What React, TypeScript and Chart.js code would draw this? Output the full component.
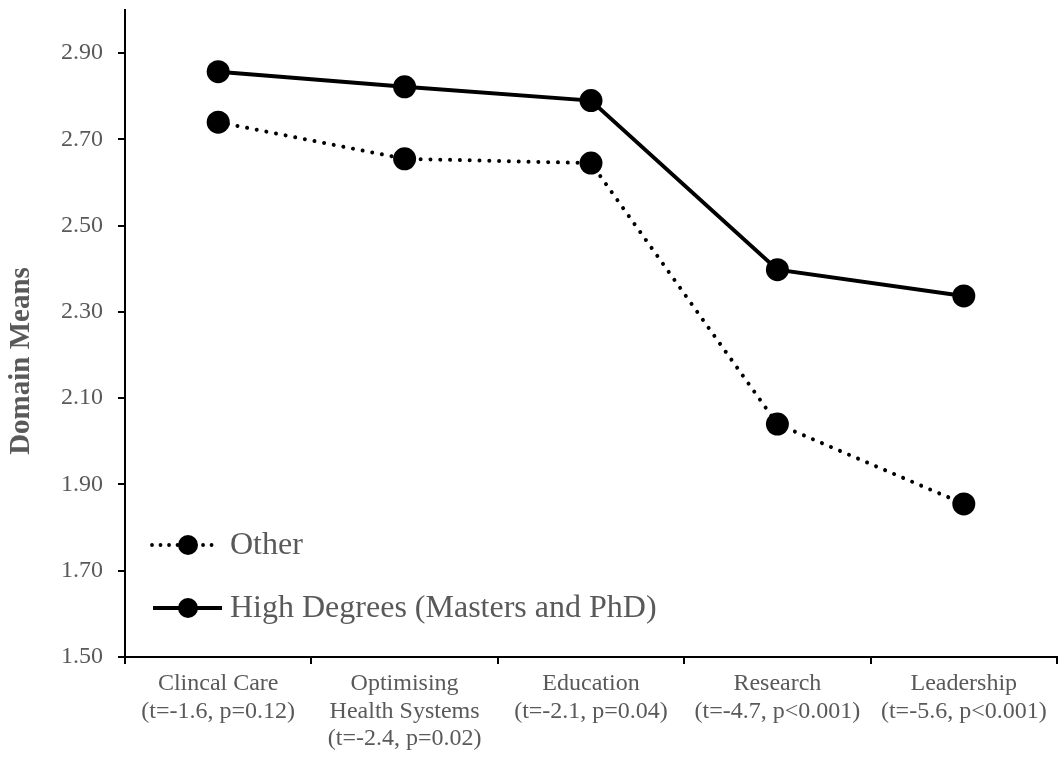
import React, { useEffect, useRef } from "react";
import { Chart, registerables } from "chart.js";

Chart.register(...registerables);

const categories: string[][] = [
  ["Clincal Care", "(t=-1.6, p=0.12)"],
  ["Optimising", "Health Systems", "(t=-2.4, p=0.02)"],
  ["Education", "(t=-2.1, p=0.04)"],
  ["Research", "(t=-4.7, p<0.001)"],
  ["Leadership", "(t=-5.6, p<0.001)"],
];
const otherMeans = [2.74, 2.655, 2.645, 2.04, 1.855];
const highDegreeMeans = [2.857, 2.822, 2.79, 2.398, 2.337];
const yTickValues = [1.5, 1.7, 1.9, 2.1, 2.3, 2.5, 2.7, 2.9];
const seriesNames = ["Other", "High Degrees (Masters and PhD)"];
const yTitle = "Domain Means";

const FAMILY = '"Liberation Serif", "Times New Roman", serif';
const TEXT = "#595959";

const overlayPlugin = {
  id: "overlay",
  afterDraw(chart: any) {
    const ctx = chart.ctx as CanvasRenderingContext2D;
    ctx.save();
    ctx.translate(22, 361);
    ctx.rotate(-Math.PI / 2);
    ctx.font = `bold 29px ${FAMILY}`;
    ctx.fillStyle = TEXT;
    ctx.textAlign = "center";
    ctx.textBaseline = "middle";
    ctx.fillText(yTitle, 0, 0);
    ctx.restore();

    // legend
    const entries = [
      { y: 545, x0: 152, x1: 216, dash: [0.01, 8.5], w: 3.8, name: seriesNames[0] },
      { y: 608, x0: 153, x1: 222, dash: [] as number[], w: 4, name: seriesNames[1] },
    ];
    for (const e of entries) {
      ctx.save();
      ctx.strokeStyle = "#000";
      ctx.lineWidth = e.w;
      ctx.lineCap = e.dash.length ? "round" : "butt";
      ctx.setLineDash(e.dash);
      ctx.beginPath();
      ctx.moveTo(e.x0, e.y);
      ctx.lineTo(e.x1, e.y);
      ctx.stroke();
      ctx.setLineDash([]);
      ctx.fillStyle = "#000";
      ctx.beginPath();
      ctx.arc(188, e.y, 10, 0, Math.PI * 2);
      ctx.fill();
      ctx.font = `32px ${FAMILY}`;
      ctx.fillStyle = TEXT;
      ctx.textAlign = "left";
      ctx.textBaseline = "middle";
      ctx.fillText(e.name, 230, e.y + 1);
      ctx.restore();
    }
  },
};

export default function App() {
  const ref = useRef<HTMLCanvasElement | null>(null);
  useEffect(() => {
    document.body.style.margin = "0";
    const canvas = ref.current!;
    const chart = new Chart(canvas, {
      type: "line",
      data: {
        labels: categories,
        datasets: [
          {
            label: seriesNames[0],
            data: otherMeans,
            borderColor: "#000",
            backgroundColor: "#000",
            borderWidth: 4,
            borderDash: [0.01, 9.8],
            borderCapStyle: "round",
            pointRadius: 11.5,
            pointBackgroundColor: "#000",
            pointBorderWidth: 0,
            tension: 0,
          },
          {
            label: seriesNames[1],
            data: highDegreeMeans,
            borderColor: "#000",
            backgroundColor: "#000",
            borderWidth: 4,
            pointRadius: 11.5,
            pointBackgroundColor: "#000",
            pointBorderWidth: 0,
            tension: 0,
          },
        ],
      },
      options: {
        responsive: false,
        animation: false,
        layout: { autoPadding: false, padding: { top: 10, right: 3, left: 0, bottom: 0 } },
        plugins: { legend: { display: false }, tooltip: { enabled: false } },
        scales: {
          x: {
            offset: true,
            afterFit: (s: any) => {
              s.height = 101;
              s.paddingLeft = 0;
              s.paddingRight = 0;
            },
            grid: {
              offset: true,
              drawOnChartArea: false,
              drawTicks: true,
              tickLength: 7,
              color: "#000",
              lineWidth: 2,
            },
            border: { display: true, color: "#000", width: 2 },
            ticks: {
              color: TEXT,
              font: { family: FAMILY, size: 24, lineHeight: 1.15 },
              padding: 6,
              maxRotation: 0,
              autoSkip: false,
            },
          },
          y: {
            min: 1.5,
            max: 3.0,
            afterBuildTicks: (s: any) => {
              s.ticks = yTickValues.map((v) => ({ value: v }));
            },
            afterFit: (s: any) => {
              s.width = 125;
              s.paddingTop = 0;
              s.paddingBottom = 0;
            },
            grid: {
              drawOnChartArea: false,
              drawTicks: true,
              tickLength: 7,
              color: "#000",
              lineWidth: 2,
            },
            border: { display: true, color: "#000", width: 2 },
            ticks: {
              color: TEXT,
              font: { family: FAMILY, size: 24 },
              padding: 15,
              callback: (v: any) => Number(v).toFixed(2),
            },
          },
        },
      },
      plugins: [overlayPlugin],
    });
    return () => chart.destroy();
  }, []);
  return <canvas ref={ref} width={1060} height={758} style={{ display: "block" }} />;
}
